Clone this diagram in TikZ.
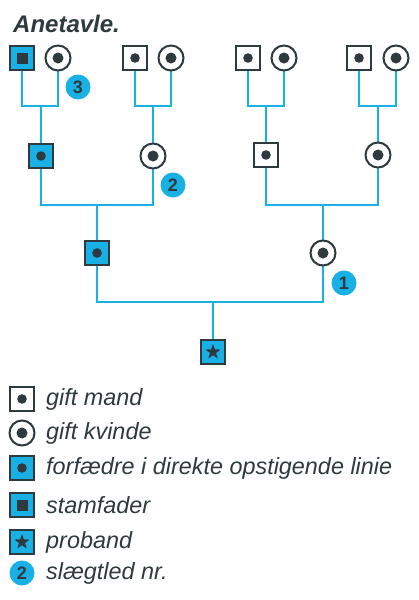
\documentclass[tikz,border=0pt]{standalone}
\usepackage{fontspec}
\setmainfont{Liberation Sans}
\usetikzlibrary{shapes.geometric,backgrounds}
\definecolor{cblue}{HTML}{19B0E6}
\definecolor{cdark}{HTML}{2E3A3E}
\begin{document}
\begin{tikzpicture}[x=1pt,y=-1pt,
  link/.style={draw=cblue,line width=2.8pt},
  man/.style={rectangle,draw=cdark,line width=1.8pt,fill=white,minimum size=24pt,inner sep=0pt,
    path picture={\fill[cdark] (path picture bounding box.center) circle (4.8pt);}},
  woman/.style={circle,draw=cdark,line width=2pt,fill=white,minimum size=25pt,inner sep=0pt,
    path picture={\fill[cdark] (path picture bounding box.center) circle (5.5pt);}},
  anc/.style={man,fill=cblue},
  stamf/.style={rectangle,draw=cdark,line width=1.8pt,fill=cblue,minimum size=24pt,inner sep=0pt,
    path picture={\fill[cdark] ([shift={(-5.5pt,-5.5pt)}]path picture bounding box.center) rectangle ([shift={(5.5pt,5.5pt)}]path picture bounding box.center);}},
  prob/.style={rectangle,draw=cdark,line width=1.8pt,fill=cblue,minimum size=24pt,inner sep=0pt},
  pstarshape/.style={star,star points=5,star point ratio=2.5,fill=cdark,minimum size=16pt,inner sep=0pt},
  badge/.style={circle,fill=cblue,minimum size=25pt,inner sep=0pt,text=cdark,font=\fontsize{18}{18}\selectfont\bfseries},
  legtext/.style={anchor=west,text=cdark,font=\fontsize{23.4}{23.4}\selectfont\itshape,inner sep=0pt},
]
\useasboundingbox (0,0) rectangle (419,600);
\node[anchor=west,text=cdark,font=\fontsize{24}{24}\selectfont\bfseries\itshape,inner sep=0pt] (title) at (13,24) {Anetavle.};
% gen 4
\node[stamf] (a4) at (22,58) {};
\node[woman] (b4) at (58,58) {};
\node[man] (c4) at (135,58) {};
\node[woman] (d4) at (171,58) {};
\node[man] (e4) at (248,58) {};
\node[woman] (f4) at (284,58) {};
\node[man] (g4) at (359,58) {};
\node[woman] (h4) at (396,58) {};
% gen 3
\node[anc] (a3) at (41,156) {};
\node[woman] (b3) at (153,156) {};
\node[man] (c3) at (266,155) {};
\node[woman] (d3) at (378,155) {};
% gen 2
\node[anc] (a2) at (97,253) {};
\node[woman] (b2) at (323,253) {};
% proband
\node[prob] (p) at (213,352) {};
\node[pstarshape] (pstar) at (p.center) {};
% junctions
\coordinate (j41) at (41,106);
\coordinate (j42) at (153,106);
\coordinate (j43) at (266,106);
\coordinate (j44) at (378,106);
\coordinate (j31) at (97,205);
\coordinate (j32) at (323,205);
\coordinate (j2) at (213,302);
% links
\begin{pgfonlayer}{background}
\fill[white] (0,0) rectangle (419,600);
\draw[link] (a4.center) |- (j41) -| (b4.center);
\draw[link] (j41) -- (a3.center);
\draw[link] (c4.center) |- (j42) -| (d4.center);
\draw[link] (j42) -- (b3.center);
\draw[link] (e4.center) |- (j43) -| (f4.center);
\draw[link] (j43) -- (c3.center);
\draw[link] (g4.center) |- (j44) -| (h4.center);
\draw[link] (j44) -- (d3.center);
\draw[link] (a3.center) |- (j31) -| (b3.center);
\draw[link] (j31) -- (a2.center);
\draw[link] (c3.center) |- (j32) -| (d3.center);
\draw[link] (j32) -- (b2.center);
\draw[link] (a2.center) |- (j2) -| (b2.center);
\draw[link] (j2) -- (p.center);
\end{pgfonlayer}
% badges
\node[badge] (n3) at (78,87) {3};
\node[badge] (n2) at (173,185) {2};
\node[badge] (n1) at (344,283) {1};
% legend
\node[man] (l1) at (22,399) {};
\node[legtext] (t1) at (46,399) {gift mand};
\node[woman] (l2) at (22,433) {};
\node[legtext] (t2) at (46,433) {gift kvinde};
\node[anc] (l3) at (22,468) {};
\node[legtext] (t3) at (46,468) {forfædre i direkte opstigende linie};
\node[stamf] (l4) at (22,505) {};
\node[legtext] (t4) at (46,505) {stamfader};
\node[prob] (l5) at (22,542) {};
\node[pstarshape] (l5s) at (l5.center) {};
\node[legtext] (t5) at (46,542) {proband};
\node[badge] (l6) at (22,573) {2};
\node[legtext] (t6) at (46,573) {slægtled nr.};
\end{tikzpicture}
\end{document}
